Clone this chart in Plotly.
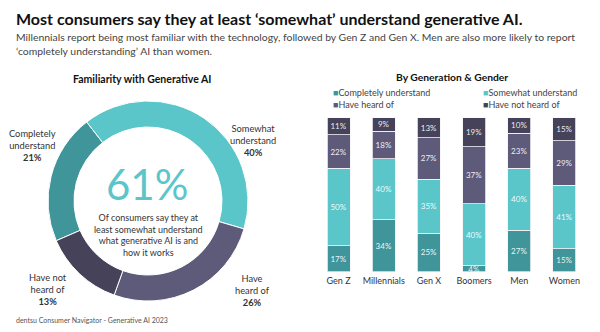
import plotly.graph_objects as go

# ---- data ----
donut_labels = ["Completely understand", "Somewhat understand", "Have heard of", "Have not heard of"]
donut_values = [21, 40, 26, 13]

categories = ["Gen Z", "Millennials", "Gen X", "Boomers", "Men", "Women"]
completely = [17, 34, 25, 4, 27, 15]
somewhat = [50, 40, 35, 40, 40, 41]
heard = [22, 18, 27, 37, 23, 29]
not_heard = [11, 9, 13, 19, 10, 15]

series_names = ["Completely understand", "Somewhat understand", "Have heard of", "Have not heard of"]
colors = ["#3f9599", "#5bc6ca", "#5e5a7a", "#45425a"]

W, H = 600, 332
FONT = "Lato"


def px(x):
    return x / W


def py(y):
    return 1 - y / H


fig = go.Figure()

# donut
cx, cy, r = 148, 201, 100
fig.add_trace(go.Pie(
    labels=donut_labels, values=donut_values, sort=False,
    direction="clockwise", rotation=-113.4, hole=0.74,
    marker=dict(colors=colors, line=dict(color="white", width=1)),
    textinfo="none", hoverinfo="label+percent", showlegend=False,
    domain=dict(x=[px(cx - r), px(cx + r)], y=[py(cy + r), py(cy - r)]),
))

# stacked bars
for name, vals, col in zip(series_names, [completely, somewhat, heard, not_heard], colors):
    fig.add_trace(go.Bar(
        x=categories, y=vals, name=name, marker=dict(color=col, line=dict(color="#f4f4f8", width=0.8)),
        text=[f"{v}%" for v in vals], textposition="inside", insidetextanchor="middle",
        textfont=dict(color="rgba(255,255,255,0.92)", size=8, family=FONT),
        showlegend=False, cliponaxis=False,
    ))

fig.update_layout(
    width=W, height=H, margin=dict(l=0, r=0, t=0, b=0),
    paper_bgcolor="white", plot_bgcolor="white",
    barmode="stack", barnorm="percent", bargap=0.49,
    uniformtext=dict(minsize=8, mode="show"),
    font=dict(family=FONT, color="#333333"),
    xaxis=dict(domain=[316 / W, 587 / W], showgrid=False, zeroline=False, showline=False,
               tickfont=dict(size=9, color="#333333", family=FONT), ticks="", ticklabelstandoff=2),
    yaxis=dict(domain=[py(271.7), py(117.6)], range=[0, 100], visible=False),
)

ann = []
# titles
ann.append(dict(x=px(14), y=py(18), xanchor="left", yanchor="middle",
                text="<b>Most consumers say they at least ‘somewhat’ understand generative AI.</b>",
                font=dict(size=16, color="#111111")))
ann.append(dict(x=px(14), y=py(44), xanchor="left", yanchor="middle", align="left",
                text="Millennials report being most familiar with the technology, followed by Gen Z and Gen X. Men are also more likely to report<br>‘completely understanding’ AI than women.",
                font=dict(size=10.4, color="#444444")))
ann.append(dict(x=px(142), y=py(79), xanchor="center", yanchor="middle",
                text="<b>Familiarity with Generative AI</b>", font=dict(size=10.5, color="#111111")))
ann.append(dict(x=px(452), y=py(77), xanchor="center", yanchor="middle",
                text="<b>By Generation & Gender</b>", font=dict(size=10.3, color="#111111")))

# donut labels
lab_pos = [(32, 146), (253, 141), (252, 290), (48, 289)]
lab_txt = ["Completely<br>understand", "Somewhat<br>understand", "Have<br>heard of", "Have not<br>heard of"]
for (lx, ly), t, v in zip(lab_pos, lab_txt, donut_values):
    ann.append(dict(x=px(lx), y=py(ly), xanchor="center", yanchor="middle", align="center",
                    text=f"{t}<br><b>{v}%</b>", font=dict(size=9.3, color="#333333")))

# center text
total = donut_values[0] + donut_values[1]
ann.append(dict(x=px(147), y=py(184), xanchor="center", yanchor="middle",
                text=f"{total}%", font=dict(size=42, color="#5bc6ca")))
ann.append(dict(x=px(148), y=py(235), xanchor="center", yanchor="middle", align="center",
                text="Of consumers say they at<br>least somewhat understand<br>what generative AI is and<br>how it works",
                font=dict(size=9, color="#333333")))

# legend (text-based)
leg_pos = [(331, 93), (481, 93), (331, 104), (481, 104)]
for (lx, ly), n, c in zip(leg_pos, series_names, colors):
    ann.append(dict(x=px(lx), y=py(ly), xanchor="left", yanchor="middle",
                    text=f"<span style='color:{c}'>■</span>{n}", font=dict(size=9, color="#444444")))

# footer
ann.append(dict(x=px(14), y=py(320), xanchor="left", yanchor="middle",
                text="dentsu Consumer Navigator - Generative AI 2023", font=dict(size=7, color="#555555")))

for a in ann:
    a.update(xref="paper", yref="paper", showarrow=False)
fig.update_layout(annotations=ann)

fig.write_html("out.html")
